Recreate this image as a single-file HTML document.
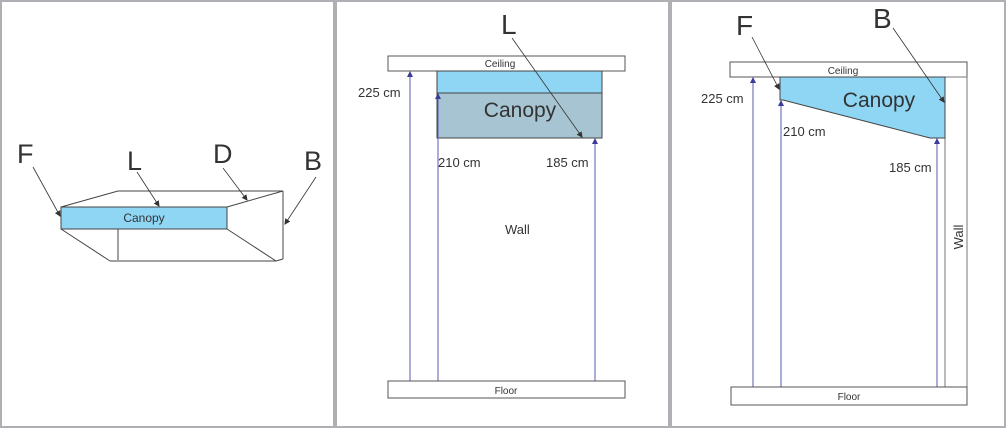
<!DOCTYPE html>
<html><head><style>
html,body{margin:0;padding:0;background:#fff;}
svg{display:block;}
text{font-family:"Liberation Sans",Arial,sans-serif;fill:#333;}
</style></head><body>
<svg width="1006" height="429" viewBox="0 0 1006 429" xmlns="http://www.w3.org/2000/svg">
<defs>
<marker id="ak" markerWidth="6" markerHeight="6" refX="5" refY="3" orient="auto" markerUnits="userSpaceOnUse"><path d="M0,0 L6,3 L0,6 z" fill="#333"/></marker>
<marker id="ab" markerWidth="6" markerHeight="6" refX="5" refY="3" orient="auto" markerUnits="userSpaceOnUse"><path d="M0,0 L6,3 L0,6 z" fill="#3b3b9a"/></marker>
</defs>
<rect x="0" y="0" width="1006" height="429" fill="#fff"/>
<!-- panel borders -->
<rect x="1" y="1" width="333" height="426" fill="none" stroke="#b0b0b4" stroke-width="2"/>
<rect x="336" y="1" width="333" height="426" fill="none" stroke="#b0b0b4" stroke-width="2"/>
<rect x="671" y="1" width="334" height="426" fill="none" stroke="#b0b0b4" stroke-width="2"/>

<!-- Panel 1 -->
<g stroke="#444" stroke-width="1" fill="none">
<line x1="61" y1="207" x2="118" y2="191"/>
<line x1="118" y1="191" x2="283" y2="191"/>
<line x1="283" y1="191" x2="283" y2="259"/>
<line x1="227" y1="207" x2="283" y2="191"/>
<line x1="61" y1="229" x2="110" y2="261"/>
<line x1="110" y1="261" x2="276" y2="261"/>
<line x1="118" y1="229" x2="118" y2="260"/>
<line x1="227" y1="229" x2="276" y2="261"/>
<line x1="276" y1="261" x2="283" y2="259"/>
</g>
<rect x="61" y="207" width="166" height="22" fill="#8ed6f4" stroke="#444" stroke-width="1"/>
<text x="144" y="222" font-size="12" text-anchor="middle">Canopy</text>
<text x="17" y="163" font-size="27">F</text>
<text x="127" y="170" font-size="27">L</text>
<text x="213" y="163" font-size="27">D</text>
<text x="304" y="170" font-size="27">B</text>
<g stroke="#333" stroke-width="0.8">
<line x1="33" y1="167" x2="60" y2="216" marker-end="url(#ak)"/>
<line x1="137" y1="172" x2="159" y2="206" marker-end="url(#ak)"/>
<line x1="223" y1="168" x2="247" y2="200" marker-end="url(#ak)"/>
<line x1="316" y1="177" x2="285" y2="224" marker-end="url(#ak)"/>
</g>

<!-- Panel 2 -->
<rect x="388" y="56" width="237" height="15" fill="#fff" stroke="#555" stroke-width="1"/>
<text x="500" y="67" font-size="10" text-anchor="middle">Ceiling</text>
<rect x="437" y="71" width="165" height="22" fill="#8ed6f4" stroke="#444" stroke-width="1"/>
<rect x="437" y="93" width="165" height="45" fill="#a7c4d2" stroke="#444" stroke-width="1"/>
<text x="520" y="117" font-size="21" text-anchor="middle">Canopy</text>
<text x="501" y="34" font-size="28">L</text>
<line x1="512" y1="38" x2="582" y2="137" stroke="#333" stroke-width="0.8" marker-end="url(#ak)"/>
<g stroke="#5a5ab0" stroke-width="1">
<line x1="410" y1="381" x2="410" y2="72" marker-end="url(#ab)"/>
<line x1="438" y1="381" x2="438" y2="94" marker-end="url(#ab)"/>
<line x1="595" y1="381" x2="595" y2="139" marker-end="url(#ab)"/>
</g>
<text x="358" y="97" font-size="13">225 cm</text>
<text x="438" y="167" font-size="13">210 cm</text>
<text x="546" y="167" font-size="13">185 cm</text>
<text x="505" y="234" font-size="13">Wall</text>
<rect x="388" y="381" width="237" height="17" fill="#fff" stroke="#555" stroke-width="1"/>
<text x="506" y="394" font-size="10" text-anchor="middle">Floor</text>

<!-- Panel 3 -->
<rect x="730" y="62" width="237" height="15" fill="#fff" stroke="#555" stroke-width="1"/>
<text x="843" y="74" font-size="10" text-anchor="middle">Ceiling</text>
<rect x="945" y="77" width="22" height="310" fill="#fff" stroke="#777" stroke-width="1"/>
<text transform="translate(963,237) rotate(-90)" font-size="13" text-anchor="middle">Wall</text>
<polygon points="780,77 945,77 945,138 930,138 783,100 780,100" fill="#8ed6f4" stroke="#444" stroke-width="1"/>
<text x="879" y="107" font-size="21" text-anchor="middle">Canopy</text>
<text x="736" y="35" font-size="28">F</text>
<text x="873" y="28" font-size="28">B</text>
<g stroke="#333" stroke-width="0.8">
<line x1="752" y1="37" x2="779" y2="89" marker-end="url(#ak)"/>
<line x1="893" y1="28" x2="944" y2="102" marker-end="url(#ak)"/>
</g>
<g stroke="#5a5ab0" stroke-width="1">
<line x1="753" y1="387" x2="753" y2="78" marker-end="url(#ab)"/>
<line x1="781" y1="387" x2="781" y2="101" marker-end="url(#ab)"/>
<line x1="937" y1="387" x2="937" y2="139" marker-end="url(#ab)"/>
</g>
<text x="701" y="103" font-size="13">225 cm</text>
<text x="783" y="136" font-size="13">210 cm</text>
<text x="889" y="172" font-size="13">185 cm</text>
<rect x="731" y="387" width="236" height="18" fill="#fff" stroke="#555" stroke-width="1"/>
<text x="849" y="400" font-size="10" text-anchor="middle">Floor</text>
</svg>
</body></html>
